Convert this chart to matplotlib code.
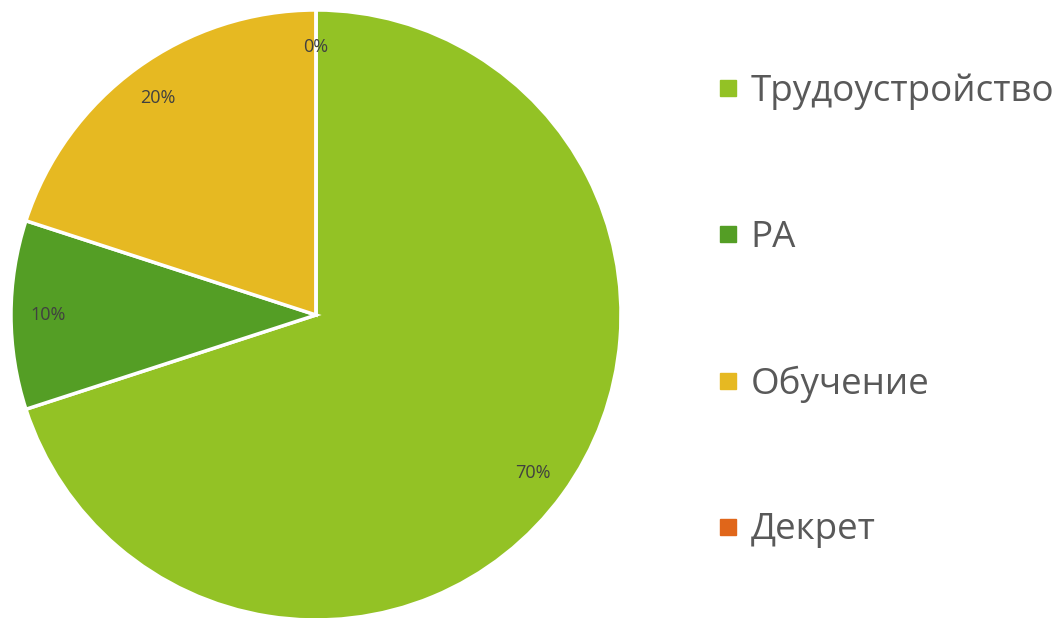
import matplotlib.pyplot as plt
from matplotlib.lines import Line2D

# Данные диаграммы
categories = ['Трудоустройство', 'РА', 'Обучение', 'Декрет']
values = [70, 10, 20, 0]
colors = ['#93C225', '#549E25', '#E6B922', '#E0661A']

plt.rcParams['font.family'] = ['Open Sans', 'DejaVu Sans']

fig = plt.figure(figsize=(10.62, 6.18), dpi=100)
W, H = 1062, 618
cx, cy, r = 316, 618 - 315, 305
ax = fig.add_axes([(cx - r) / W, (cy - r) / H, 2 * r / W, 2 * r / H])

wedges, texts, autotexts = ax.pie(
    values, colors=colors, startangle=90, counterclock=False,
    autopct='%1.0f%%', pctdistance=0.88,
    wedgeprops=dict(edgecolor='white', linewidth=2.5),
    textprops=dict(color='#404040', fontsize=13))
ax.set_xlim(-1, 1)
ax.set_ylim(-1, 1)
ax.set_aspect('equal')
for w in wedges:
    w.set_clip_on(False)

# Легенда справа
handles = [Line2D([], [], marker='s', linestyle='none', markersize=11.5,
                  markerfacecolor=c, markeredgecolor=c) for c in colors]
fig.legend(handles, categories, loc='center left',
           bbox_to_anchor=(682 / W, 1 - 311 / H), frameon=False,
           fontsize=26.5, labelcolor='#595959', labelspacing=2.98,
           handlelength=0.68, handletextpad=0.28)

fig.savefig('out.png', dpi=100)
